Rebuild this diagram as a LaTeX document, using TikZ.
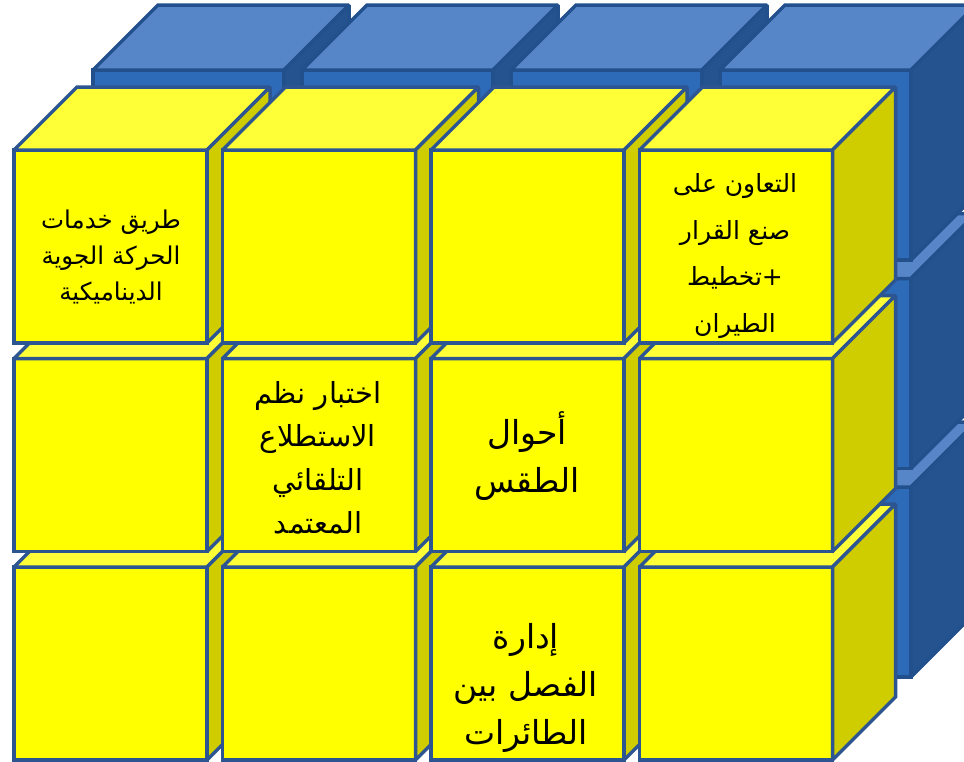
\documentclass[tikz,border=0pt]{standalone}
\usepackage{fontspec}
\TeXXeTstate=1
\newfontfamily\arabicfont[Script=Arabic]{DejaVu Sans}
\definecolor{cYfront}{HTML}{FFFF00}
\definecolor{cYtop}{HTML}{FFFF38}
\definecolor{cYside}{HTML}{CFCC00}
\definecolor{cYline}{HTML}{2C5592}
\definecolor{cBfront}{HTML}{2D6AB8}
\definecolor{cBtop}{HTML}{5686C8}
\definecolor{cBside}{HTML}{25538F}
\definecolor{cBline}{HTML}{21508C}
\newcommand\ar[1]{\beginR#1\endR}
\newcommand\cubeat[6]{%
  \draw[#6front] (#1,#2) rectangle ++(#3,#4);
  \draw[#6top] (#1,#2) -- ++(#5,-#5) -- ++(#3,0) -- ++(-#5,#5) -- cycle;
  \draw[#6side] (#1+#3,#2) -- ++(#5,-#5) -- ++(0,#4) -- ++(-#5,#5) -- cycle;
}
\tikzset{
  yface/.style={draw=cYline, line width=3.5pt, line join=miter, miter limit=2},
  yfront/.style={yface, fill=cYfront},
  ytop/.style={yface, fill=cYtop},
  yside/.style={yface, fill=cYside},
  bface/.style={draw=cBline, line width=3.5pt, line join=miter, miter limit=2},
  bfront/.style={bface, fill=cBfront},
  btop/.style={bface, fill=cBtop},
  bside/.style={bface, fill=cBside},
  txt/.style={align=center, text=black, inner sep=0pt}
}
\begin{document}
\begin{tikzpicture}[x=1pt,y=-1pt]
\useasboundingbox (0,0) rectangle (964,761);
\clip (0,0) rectangle (964,761);
% back (blue) layer
\foreach \j in {2,1,0}{\foreach \i in {0,1,2,3}{
  \pgfmathsetmacro\X{93+209*\i}\pgfmathsetmacro\Y{70+208.5*\j}
  \cubeat{\X}{\Y}{191}{190}{65}{b}}}
% front (yellow) layer
\foreach \j in {2,1,0}{\foreach \i in {0,1,2,3}{
  \pgfmathsetmacro\X{14+208.5*\i}\pgfmathsetmacro\Y{150+208.5*\j}
  \cubeat{\X}{\Y}{193}{193}{63}{y}}}
% texts
\node[txt, font=\arabicfont\fontsize{24.5}{36}\selectfont] (t11) at (111,257)
  {\ar{طريق خدمات}\\\ar{الحركة الجوية}\\\ar{الديناميكية}};
\node[txt, font=\arabicfont\fontsize{25}{46.5}\selectfont] (t14) at (735,256)
  {\ar{التعاون على}\\\ar{صنع القرار}\\\ar{+\kern0pt تخطيط}\\\ar{الطيران}};
\node[txt, font=\arabicfont\fontsize{29}{43.5}\selectfont] (t22) at (318,458)
  {\ar{اختبار نظم}\\\ar{الاستطلاع}\\\ar{التلقائي}\\\ar{المعتمد}};
\node[txt, font=\arabicfont\fontsize{33}{48}\selectfont] (t23) at (527,456)
  {\ar{أحوال}\\\ar{الطقس}};
\node[txt, font=\arabicfont\fontsize{33}{48}\selectfont] (t33) at (526,688)
  {\ar{إدارة}\\\ar{الفصل بين}\\\ar{الطائرات}};
\end{tikzpicture}
\end{document}
